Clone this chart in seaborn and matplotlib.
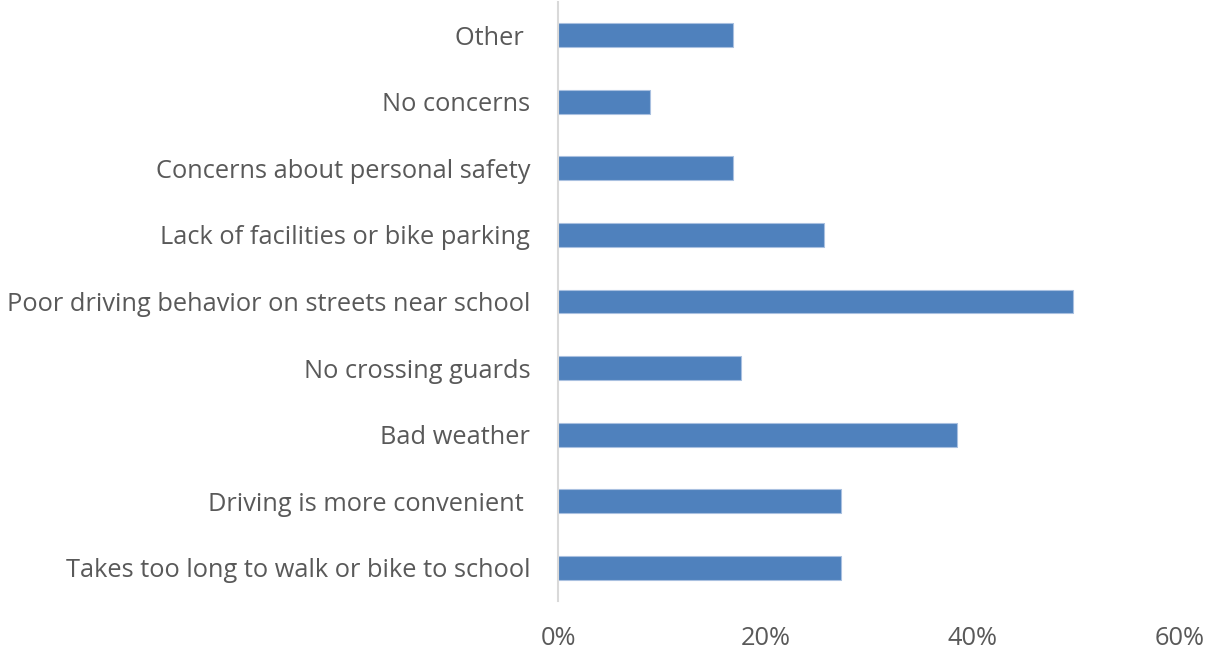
import matplotlib
matplotlib.use("Agg")
from matplotlib import pyplot as plt
from matplotlib.ticker import PercentFormatter
import seaborn as sns
import pandas as pd

# survey categories, top to bottom as shown
concerns = [
    "Other ",
    "No concerns",
    "Concerns about personal safety",
    "Lack of facilities or bike parking",
    "Poor driving behavior on streets near school",
    "No crossing guards",
    "Bad weather",
    "Driving is more convenient ",
    "Takes too long to walk or bike to school",
]
share = [16.9, 8.9, 16.9, 25.7, 49.7, 17.7, 38.5, 27.3, 27.3]

df = pd.DataFrame({"concern": concerns, "share": share})

sns.set_theme(style="white")
plt.rcParams["font.family"] = ["Open Sans", "DejaVu Sans"]

fig = plt.figure(figsize=(12.06, 6.54), dpi=100)
ax = fig.add_axes([0.4627, 0.081, 0.5157, 0.916])

sns.barplot(data=df, x="share", y="concern", order=concerns, color="#4F81BD",
            width=0.36, saturation=1, edgecolor="#a9c0e0", linewidth=0.8, ax=ax)

ax.set_xlim(0, 60)
ax.set_xticks([0, 20, 40, 60])
ax.xaxis.set_major_formatter(PercentFormatter(decimals=0))
ax.set_xlabel("")
ax.set_ylabel("")

for side in ["top", "right", "bottom"]:
    ax.spines[side].set_visible(False)
ax.spines["left"].set_color("#d9d9d9")
ax.spines["left"].set_linewidth(1.5)

ax.tick_params(axis="x", length=0, pad=18, labelsize=18.3, labelcolor="#595959")
ax.tick_params(axis="y", length=0, pad=20, labelsize=18.3, labelcolor="#595959")

fig.savefig("out.png", dpi=100)
